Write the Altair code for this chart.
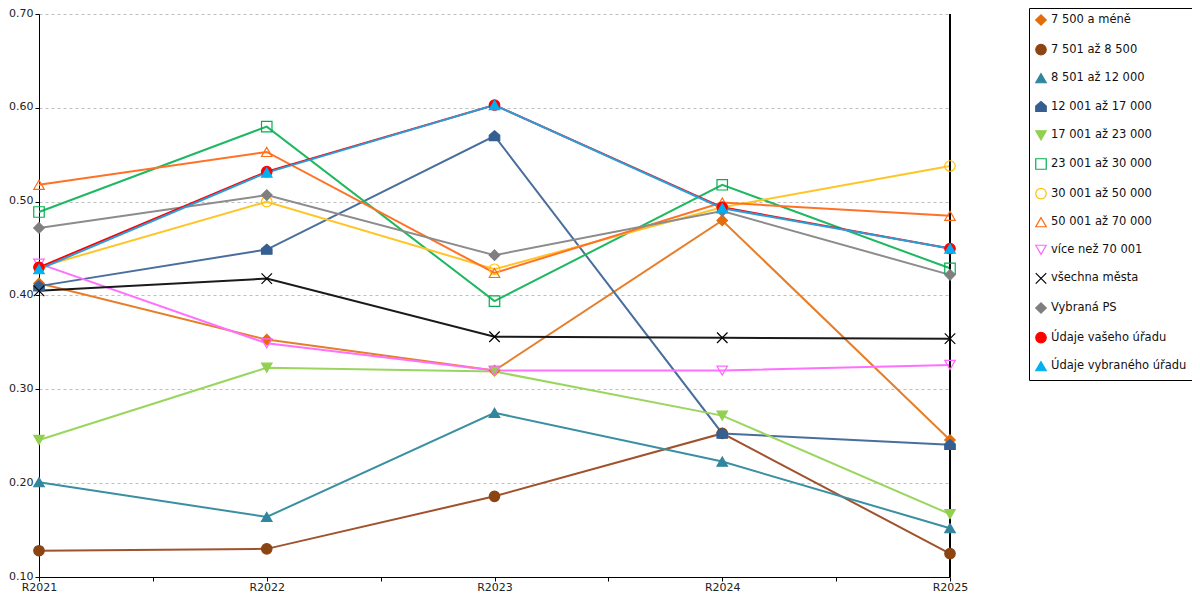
import altair as alt
import pandas as pd

years = ["R2021", "R2022", "R2023", "R2024", "R2025"]

series = [
    "7 500 a méně",
    "7 501 až 8 500",
    "8 501 až 12 000",
    "12 001 až 17 000",
    "17 001 až 23 000",
    "23 001 až 30 000",
    "30 001 až 50 000",
    "50 001 až 70 000",
    "více než 70 001",
    "všechna města",
    "Vybraná PS",
    "Údaje vašeho úřadu",
    "Údaje vybraného úřadu",
]

v_7500 = [0.413, 0.353, 0.320, 0.480, 0.246]
v_8500 = [0.128, 0.130, 0.186, 0.253, 0.125]
v_12000 = [0.201, 0.164, 0.275, 0.223, 0.152]
v_17000 = [0.410, 0.449, 0.570, 0.253, 0.241]
v_23000 = [0.246, 0.323, 0.319, 0.272, 0.167]
v_30000 = [0.489, 0.580, 0.394, 0.518, 0.429]
v_50000 = [0.430, 0.500, 0.428, 0.494, 0.538]
v_70000 = [0.518, 0.553, 0.424, 0.499, 0.485]
v_over = [0.434, 0.349, 0.320, 0.320, 0.326]
v_all = [0.405, 0.418, 0.356, 0.355, 0.354]
v_ps = [0.472, 0.507, 0.443, 0.490, 0.422]
v_yours = [0.430, 0.532, 0.603, 0.494, 0.450]
v_selected = [0.428, 0.531, 0.603, 0.493, 0.450]

values = [v_7500, v_8500, v_12000, v_17000, v_23000, v_30000, v_50000,
          v_70000, v_over, v_all, v_ps, v_yours, v_selected]

colors = ["#E46C0A", "#8B4513", "#31859C", "#365F91", "#92D050", "#00B050",
          "#FFC000", "#FF6A13", "#FF66FF", "#000000", "#7F7F7F", "#FF0000",
          "#00B0F0"]
line_colors = ["#E67E2A", "#A0522D", "#3A8FA3", "#4A6E9C", "#9AD65E", "#1DB860",
               "#FFC425", "#FF7226", "#FF70FF", "#1A1A1A", "#8C8C8C", "#FF0000",
               "#2E9CD8"]
fills = ["#E46C0A", "#8B4513", "#31859C", "#365F91", "#92D050", "transparent",
         "transparent", "transparent", "transparent", "transparent", "#7F7F7F",
         "#FF0000", "#00B0F0"]
shapes = ["diamond", "circle", "triangle-up",
          "M0,-1L1,-0.15L1,0.9L-1,0.9L-1,-0.15Z",
          "triangle-down", "square", "circle", "triangle-up", "triangle-down",
          "M-1,-1L1,1M1,-1L-1,1", "diamond", "circle", "triangle-up"]

rows = []
for si, (name, vals) in enumerate(zip(series, values)):
    for xi, v in enumerate(vals):
        rows.append({"series": name, "x": xi, "value": v, "sid": si})
df = pd.DataFrame(rows)

label_array = "[" + ",".join("'" + y + "'" for y in years) + "]"

x_enc = alt.X(
    "x:Q",
    scale=alt.Scale(domain=[0, len(years) - 1], nice=False, zero=False),
    axis=alt.Axis(
        title=None,
        values=[i * 0.5 for i in range(2 * (len(years) - 1) + 1)],
        labelExpr=f"datum.value % 1 === 0 ? {label_array}[datum.value] : ''",
        grid=False,
        domainColor="#000000",
        tickColor="#000000",
        tickSize=4,
        labelFlush=False,
        labelOverlap=False,
        labelFontSize=11,
        labelColor="#222222",
        labelPadding=0,
    ),
)
y_enc = alt.Y(
    "value:Q",
    scale=alt.Scale(domain=[0.1, 0.7], nice=False, zero=False),
    axis=alt.Axis(
        title=None,
        values=[0.1, 0.2, 0.3, 0.4, 0.5, 0.6, 0.7],
        format=".2f",
        grid=True,
        gridColor="#BFBFBF",
        gridDash=[3, 3],
        gridWidth=1,
        domainColor="#000000",
        tickColor="#000000",
        tickSize=4,
        labelFontSize=11,
        labelColor="#222222",
        labelPadding=2,
        labelOffset=-1,
    ),
)

legend = alt.Legend(
    title=None,
    orient="none",
    legendX=990,
    legendY=-6,
    strokeColor="#000000",
    fillColor="#FFFFFF",
    padding=6,
    labelFontSize=11.5,
    labelColor="#111111",
    labelLimit=300,
    labelOffset=4,
    symbolSize=110,
    symbolStrokeWidth=1.2,
    rowPadding=13.6,
)

lines = alt.Chart(df).mark_line(strokeWidth=2).encode(
    x=x_enc,
    y=y_enc,
    color=alt.Color("sid:N", scale=alt.Scale(domain=list(range(len(series))), range=line_colors), legend=None),
    order="x:Q",
)

points = alt.Chart(df).mark_point(filled=False, opacity=1, size=110, strokeWidth=1.2).encode(
    x=x_enc,
    y=y_enc,
    shape=alt.Shape("series:N", scale=alt.Scale(domain=series, range=shapes), legend=legend),
    fill=alt.Fill("series:N", scale=alt.Scale(domain=series, range=fills), legend=legend),
    stroke=alt.Stroke("series:N", scale=alt.Scale(domain=series, range=colors), legend=legend),
)

right_rule = alt.Chart(df).mark_rule(color="#000000", strokeWidth=1).encode(
    x=alt.datum(len(years) - 1)
)

chart = alt.layer(lines, right_rule, points).properties(
    width=911,
    height=563,
    padding={"left": 31, "top": 6, "right": 242, "bottom": 15},
    autosize=alt.AutoSizeParams(type="none"),
).configure(
    font="DejaVu Sans",
).configure_view(
    stroke=None,
)

chart.save("out.html", embed_options={"renderer": "svg", "actions": False})
